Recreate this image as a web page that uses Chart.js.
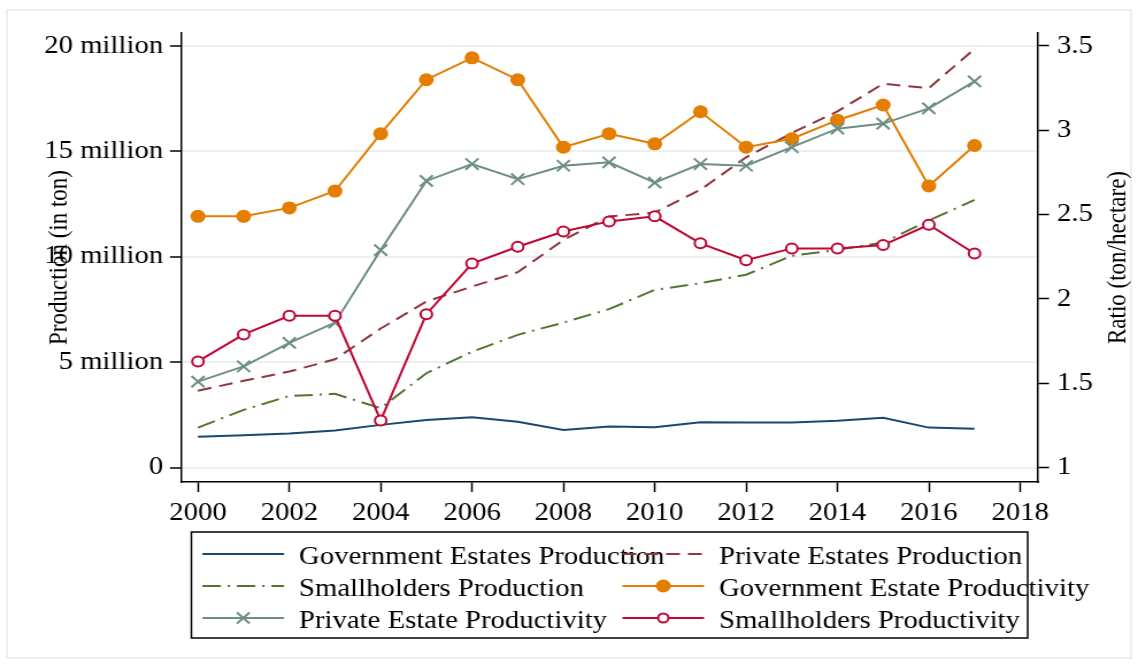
<!DOCTYPE html>
<html>
<head>
<meta charset="utf-8">
<title>Production and productivity by estate type</title>
<script src="https://cdn.jsdelivr.net/npm/chart.js@4.4.1/dist/chart.umd.min.js"></script>
<style>
  html, body { margin: 0; padding: 0; background: #fff; overflow: hidden; }
  /* the graph is laid out on a narrower canvas and widened to the page */
  #stage { position: relative; width: 990px; height: 667px; transform: scaleX(1.1495); transform-origin: 0 0; }
</style>
</head>
<body>
<div id="stage"><canvas id="chart"></canvas></div>
<script>
// ---- data -------------------------------------------------------------
const years = [2000, 2001, 2002, 2003, 2004, 2005, 2006, 2007, 2008,
               2009, 2010, 2011, 2012, 2013, 2014, 2015, 2016, 2017];

// production, tons
const govEstatesProduction = [1470000, 1540000, 1620000, 1760000, 2030000, 2260000, 2390000, 2180000, 1790000,
                              1950000, 1920000, 2150000, 2140000, 2140000, 2230000, 2370000, 1900000, 1850000];
const privEstatesProduction = [3650000, 4120000, 4560000, 5140000, 6600000, 7880000, 8590000, 9270000, 10800000,
                               11910000, 12100000, 13180000, 14720000, 15870000, 16900000, 18210000, 18000000, 19860000];
const smallholdersProduction = [1900000, 2740000, 3400000, 3500000, 2820000, 4480000, 5500000, 6300000, 6880000,
                                7520000, 8430000, 8750000, 9150000, 10050000, 10330000, 10680000, 11720000, 12700000];

// productivity, ton / hectare
const govEstateProductivity = [2.49, 2.49, 2.54, 2.64, 2.98, 3.30, 3.43, 3.30, 2.90,
                               2.98, 2.92, 3.11, 2.90, 2.95, 3.06, 3.15, 2.67, 2.91];
const privEstateProductivity = [1.51, 1.60, 1.74, 1.86, 2.29, 2.70, 2.80, 2.71, 2.79,
                                2.81, 2.69, 2.80, 2.79, 2.90, 3.01, 3.04, 3.13, 3.29];
const smallholdersProductivity = [1.63, 1.79, 1.90, 1.90, 1.28, 1.91, 2.21, 2.31, 2.40,
                                  2.46, 2.49, 2.33, 2.23, 2.30, 2.30, 2.32, 2.44, 2.27];

// tick labels
const yearTicks = [2000, 2002, 2004, 2006, 2008, 2010, 2012, 2014, 2016, 2018];
const productionTicks = [0, 5000000, 10000000, 15000000, 20000000];
const ratioTicks = [1, 1.5, 2, 2.5, 3, 3.5];

const productionTitle = 'Production (in ton)';
const ratioTitle = 'Ratio (ton/hectare)';

// ---- styling --------------------------------------------------------------
const SERIF = '"Liberation Serif", "Times New Roman", Times, serif';
Chart.defaults.font.family = SERIF;
Chart.defaults.color = '#000';

const toPoints = vals => years.map((yr, i) => ({ x: yr, y: vals[i] }));
const fixedTicks = list => scale => { scale.ticks = list.map(v => ({ value: v })); };

const datasets = [
  { label: 'Government Estates Production', data: toPoints(govEstatesProduction), yAxisID: 'yProd',
    borderColor: '#1a476f', borderWidth: 2, pointRadius: 0, order: 6, marker: null },
  { label: 'Private Estates Production', data: toPoints(privEstatesProduction), yAxisID: 'yProd',
    borderColor: '#90353b', borderWidth: 2, borderDash: [12, 7], pointRadius: 0, order: 5, marker: null },
  { label: 'Smallholders Production', data: toPoints(smallholdersProduction), yAxisID: 'yProd',
    borderColor: '#55752f', borderWidth: 2, borderDash: [16, 6, 2, 6], pointRadius: 0, order: 4, marker: null },
  { label: 'Government Estate Productivity', data: toPoints(govEstateProductivity), yAxisID: 'yRatio',
    borderColor: '#e37e00', borderWidth: 2, pointStyle: 'circle', pointRadius: 6.5,
    pointBackgroundColor: '#e37e00', pointBorderColor: '#e37e00', pointBorderWidth: 0, order: 3, marker: 'dot' },
  { label: 'Private Estate Productivity', data: toPoints(privEstateProductivity), yAxisID: 'yRatio',
    borderColor: '#6e8e84', borderWidth: 2, pointStyle: 'crossRot', pointRadius: 8,
    pointBorderColor: '#6e8e84', pointBorderWidth: 2, order: 2, marker: 'x' },
  { label: 'Smallholders Productivity', data: toPoints(smallholdersProductivity), yAxisID: 'yRatio',
    borderColor: '#c10534', borderWidth: 2, pointStyle: 'circle', pointRadius: 5,
    pointBackgroundColor: '#ffffff', pointBorderColor: '#c10534', pointBorderWidth: 2, order: 1, marker: 'ring' }
];
datasets.forEach(d => { d.tension = 0; d.fill = false; });

// faint outer frame around the whole graph
const graphFrame = {
  id: 'graphFrame',
  beforeDraw(chart) {
    const { ctx, width, height } = chart;
    ctx.save();
    ctx.fillStyle = '#ffffff';
    ctx.fillRect(0, 0, width, height);
    ctx.strokeStyle = '#e3ebef';
    ctx.lineWidth = 1.5;
    ctx.strokeRect(6, 10, width - 12, height - 19);
    ctx.restore();
  }
};

// right-hand axis title, reading bottom to top like the left one
const ratioAxisTitle = {
  id: 'ratioAxisTitle',
  afterDraw(chart) {
    const { ctx, chartArea } = chart;
    const sc = chart.scales.yRatio;
    ctx.save();
    ctx.translate(sc.right - 17.5, (chartArea.top + chartArea.bottom) / 2);
    ctx.rotate(-Math.PI / 2);
    ctx.font = '23px ' + SERIF;
    ctx.fillStyle = '#000';
    ctx.textAlign = 'center';
    ctx.textBaseline = 'middle';
    ctx.fillText(ratioTitle, 0, 0);
    ctx.restore();
  }
};

// two-column legend box under the plot
const boxLegend = {
  id: 'boxLegend',
  afterDraw(chart) {
    const { ctx, chartArea } = chart;
    const left = chartArea.left + 9, right = chartArea.right - 9;
    const top = 532, bottom = 638;
    const rowY = [554, 586, 618];
    const colX = [left + 9.6, left + 375];
    const sampleLen = 71, textGap = 84;
    ctx.save();
    ctx.strokeStyle = '#000';
    ctx.lineWidth = 1.5;
    ctx.strokeRect(left, top, right - left, bottom - top);
    chart.data.datasets.forEach((ds, i) => {
      const x0 = colX[i % 2], y = rowY[Math.floor(i / 2)];
      ctx.save();
      ctx.strokeStyle = ds.borderColor;
      ctx.lineWidth = ds.borderWidth;
      ctx.setLineDash(ds.borderDash || []);
      ctx.beginPath();
      ctx.moveTo(x0, y);
      ctx.lineTo(x0 + sampleLen, y);
      ctx.stroke();
      ctx.setLineDash([]);
      const mx = x0 + sampleLen / 2;
      if (ds.marker === 'dot') {
        ctx.fillStyle = ds.pointBackgroundColor;
        ctx.beginPath(); ctx.arc(mx, y, 6.5, 0, Math.PI * 2); ctx.fill();
      } else if (ds.marker === 'ring') {
        ctx.fillStyle = '#fff';
        ctx.strokeStyle = ds.pointBorderColor;
        ctx.lineWidth = 2;
        ctx.beginPath(); ctx.arc(mx, y, 4.5, 0, Math.PI * 2); ctx.fill(); ctx.stroke();
      } else if (ds.marker === 'x') {
        const h = 5.5;
        ctx.strokeStyle = ds.pointBorderColor;
        ctx.lineWidth = 2;
        ctx.beginPath();
        ctx.moveTo(mx - h, y - h); ctx.lineTo(mx + h, y + h);
        ctx.moveTo(mx - h, y + h); ctx.lineTo(mx + h, y - h);
        ctx.stroke();
      }
      ctx.restore();
      ctx.font = '25px ' + SERIF;
      ctx.fillStyle = '#000';
      ctx.textAlign = 'left';
      ctx.textBaseline = 'middle';
      ctx.fillText(ds.label, x0 + textGap, y + 3);
    });
    ctx.restore();
  }
};

new Chart(document.getElementById('chart'), {
  type: 'line',
  data: { datasets },
  plugins: [graphFrame, ratioAxisTitle, boxLegend],
  options: {
    responsive: true,
    maintainAspectRatio: false,
    animation: false,
    events: [],
    layout: { padding: { top: 33, left: 0, right: 0, bottom: 0 } },
    plugins: { legend: { display: false }, tooltip: { enabled: false } },
    scales: {
      x: {
        type: 'linear', position: 'bottom', min: 1999.63, max: 2018.39,
        afterBuildTicks: fixedTicks(yearTicks),
        afterFit: s => { s.height = 185; },
        border: { display: true, color: '#000', width: 1.5 },
        grid: { drawOnChartArea: false, drawTicks: true, tickLength: 10, tickColor: '#000', tickWidth: 1.5 },
        ticks: { autoSkip: false, maxRotation: 0, padding: 6, font: { size: 25 }, color: '#000',
                 callback: v => String(v) }
      },
      yProd: {
        type: 'linear', position: 'left', min: -680000, max: 20617000,
        afterBuildTicks: fixedTicks(productionTicks),
        afterFit: s => { s.width = 157.5; },
        border: { display: true, color: '#000', width: 1.5 },
        grid: { drawOnChartArea: true, color: '#eaf0f3', lineWidth: 2, drawTicks: true,
                tickLength: 9.6, tickColor: '#000', tickWidth: 1.5 },
        ticks: { autoSkip: false, padding: 6, font: { size: 25 }, color: '#000',
                 callback: v => v === 0 ? '0' : (v / 1000000) + ' million' },
        title: { display: true, text: productionTitle, font: { size: 23 }, color: '#000',
                 padding: { top: 38, bottom: 0 } }
      },
      yRatio: {
        type: 'linear', position: 'right', min: 0.915, max: 3.577,
        afterBuildTicks: fixedTicks(ratioTicks),
        afterFit: s => { s.width = 87; },
        border: { display: true, color: '#000', width: 1.5 },
        grid: { drawOnChartArea: false, drawTicks: true, tickLength: 9.6, tickColor: '#000', tickWidth: 1.5 },
        ticks: { autoSkip: false, padding: 7, font: { size: 25 }, color: '#000',
                 callback: v => String(v) }
      }
    }
  }
});
</script>
</body>
</html>
